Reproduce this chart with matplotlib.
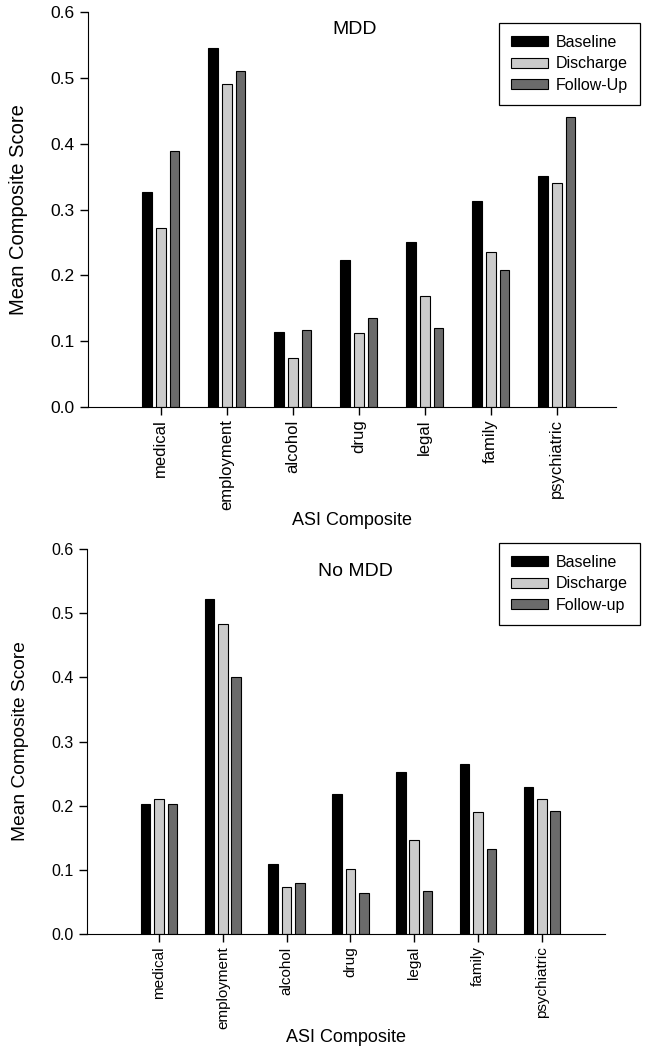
import numpy as np
import matplotlib
matplotlib.use('Agg')
import matplotlib.pyplot as plt

# ------------------------------------------------------------
# Data
# ------------------------------------------------------------
categories = ['medical', 'employment', 'alcohol', 'drug', 'legal', 'family', 'psychiatric']

mdd_baseline = [0.327, 0.545, 0.114, 0.224, 0.251, 0.313, 0.351]
mdd_discharge = [0.272, 0.490, 0.075, 0.113, 0.169, 0.236, 0.341]
mdd_followup = [0.389, 0.510, 0.117, 0.135, 0.120, 0.208, 0.441]

nomdd_baseline = [0.203, 0.522, 0.109, 0.218, 0.252, 0.265, 0.229]
nomdd_discharge = [0.210, 0.483, 0.073, 0.102, 0.146, 0.190, 0.211]
nomdd_followup = [0.202, 0.401, 0.080, 0.064, 0.067, 0.132, 0.191]

y_ticks = [0.0, 0.1, 0.2, 0.3, 0.4, 0.5, 0.6]

plt.rcParams['font.family'] = ['Liberation Sans', 'DejaVu Sans']

W, H = 666, 1050
fig = plt.figure(figsize=(W / 100, H / 100), dpi=100)

colors = ['#000000', '#cbcbcb', '#6b6b6b']
width = 0.15
offsets = [-0.21, 0.0, 0.21]


def draw_panel(rect, series, labels, title, title_xy, legend_xy, xlim, fs):
    ax = fig.add_axes(rect)
    x = np.arange(len(categories))
    handles = []
    for vals, off, col, lab in zip(series, offsets, colors, labels):
        b = ax.bar(x + off, vals, width=width, color=col, edgecolor='black',
                   linewidth=0.8, label=lab)
        handles.append(b)
    ax.set_xlim(*xlim)
    ax.set_ylim(0, 0.6)
    ax.set_yticks(y_ticks)
    ax.set_yticklabels([f'{t:.1f}' for t in y_ticks], fontsize=fs['yt'])
    ax.set_xticks(x)
    ax.set_xticklabels(categories, rotation=90, fontsize=fs['xt'])
    ax.spines['top'].set_visible(False)
    ax.spines['right'].set_visible(False)
    ax.tick_params(direction='out', length=6, width=1)
    ax.tick_params(axis='x', pad=3)
    ax.set_ylabel('Mean Composite Score', fontsize=fs['yl'], labelpad=16)
    ax.set_xlabel('ASI Composite', fontsize=13, labelpad=fs['xpad'])
    fig.text(title_xy[0] / W, 1 - title_xy[1] / H, title, fontsize=14,
             ha='center', va='center')
    leg = ax.legend(handles=handles, loc='upper right',
                    bbox_to_anchor=(legend_xy[0] / W, 1 - legend_xy[1] / H),
                    bbox_transform=fig.transFigure, fontsize=11.5,
                    fancybox=False, edgecolor='black', framealpha=1,
                    handlelength=2.3, handleheight=0.6, handletextpad=0.5,
                    borderpad=0.75, labelspacing=0.4, borderaxespad=0)
    leg.get_frame().set_linewidth(0.9)
    return ax


draw_panel([88 / W, 1 - 407 / H, (616 - 88) / W, (407 - 12) / H],
           [mdd_baseline, mdd_discharge, mdd_followup],
           ['Baseline', 'Discharge', 'Follow-Up'],
           'MDD', (355, 30), (640, 23), (-1.1, 6.9),
           {'yt': 12.5, 'xt': 12, 'yl': 14.5, 'xpad': 1})

draw_panel([87 / W, 1 - 934 / H, (605 - 87) / W, (934 - 549) / H],
           [nomdd_baseline, nomdd_discharge, nomdd_followup],
           ['Baseline', 'Discharge', 'Follow-up'],
           'No MDD', (355, 572), (640, 543), (-1.13, 6.99),
           {'yt': 11.5, 'xt': 11, 'yl': 13.8, 'xpad': 0})

fig.savefig('out.png', dpi=100)
